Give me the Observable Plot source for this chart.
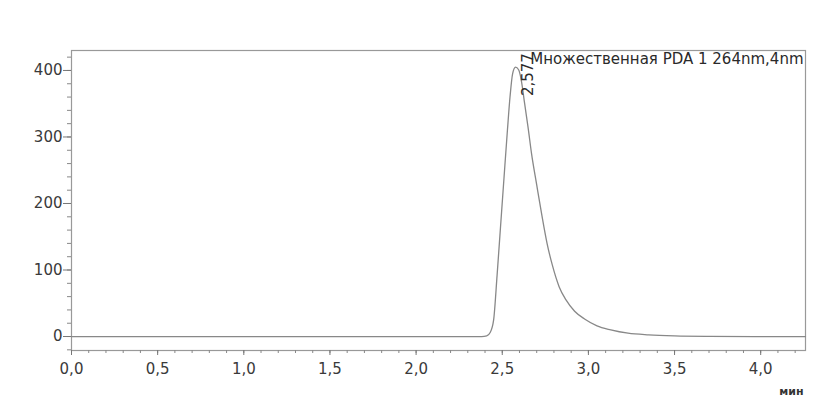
<!DOCTYPE html>
<html>
<head>
<meta charset="utf-8">
<script src="https://cdn.jsdelivr.net/npm/d3@7"></script>
<script src="https://cdn.jsdelivr.net/npm/@observablehq/plot@0.6"></script>
<style>
  html, body { margin: 0; padding: 0; background: #fff; }
</style>
</head>
<body>
<div id="chart"></div>
<script>
// Retention time (min) and detector response (mAU)
const times = [0, 0.5, 1.0, 1.5, 2.0, 2.30, 2.38, 2.41, 2.43, 2.45, 2.47, 2.49, 2.51, 2.53, 2.545, 2.56, 2.577, 2.595, 2.61, 2.63, 2.65, 2.67, 2.70, 2.73, 2.76, 2.79, 2.83, 2.87, 2.92, 2.98, 3.05, 3.13, 3.23, 3.35, 3.50, 3.70, 4.00, 4.26];
const absorbance = [0, 0, 0, 0, 0, 0, 0, 1, 6, 25, 92, 165, 238, 310, 360, 395, 405, 401, 386, 350, 314, 275, 228, 182, 140, 108, 75, 55, 38, 26, 16, 10, 5, 2.5, 1, 0.3, 0, 0];

const peakTime = [2.577];
const peakHeight = [405];
const peakLabel = ["2,577"];
const traceTitle = ["Множественная PDA 1 264nm,4nm"];
const xUnit = ["мин"];

const yMajorTicks = [0, 100, 200, 300, 400];
const yMinorTicks = [-20, 0, 20, 40, 60, 80, 100, 120, 140, 160, 180, 200, 220, 240, 260, 280, 300, 320, 340, 360, 380, 400, 420];
const xMajorTicks = [0, 0.5, 1.0, 1.5, 2.0, 2.5, 3.0, 3.5, 4.0];
const xMinorTicks = [0, 0.1, 0.2, 0.3, 0.4, 0.5, 0.6, 0.7, 0.8, 0.9, 1.0, 1.1, 1.2, 1.3, 1.4, 1.5, 1.6, 1.7, 1.8, 1.9, 2.0, 2.1, 2.2, 2.3, 2.4, 2.5, 2.6, 2.7, 2.8, 2.9, 3.0, 3.1, 3.2, 3.3, 3.4, 3.5, 3.6, 3.7, 3.8, 3.9, 4.0, 4.1, 4.2];

const trace = times.map((t, i) => ({t, v: absorbance[i]}));
const peaks = peakTime.map((t, i) => ({t, v: peakHeight[i], label: peakLabel[i]}));
const commaFmt = d => d.toFixed(1).replace(".", ",");

const chart = Plot.plot({
  width: 837,
  height: 409,
  marginLeft: 71,
  marginRight: 32,
  marginTop: 50,
  marginBottom: 59,
  style: {fontFamily: "DejaVu Sans", fontSize: "15px", color: "#555", background: "#fff"},
  x: {domain: [0, 4.26], label: null},
  y: {domain: [-21, 430], label: null},
  marks: [
    Plot.frame({stroke: "#999", strokeWidth: 1.2}),
    Plot.axisY(yMinorTicks, {tickSize: 4, tickFormat: () => "", label: null, stroke: "#888"}),
    Plot.axisY(yMajorTicks, {tickSize: 8, tickPadding: 1, tickFormat: d => String(d), label: null, stroke: "#777", fill: "#3a3a3a"}),
    Plot.axisX(xMinorTicks, {tickSize: 3, tickFormat: () => "", label: null, stroke: "#888"}),
    Plot.axisX(xMajorTicks, {tickSize: 5, tickPadding: 8, tickFormat: commaFmt, label: null, stroke: "#777", fill: "#3a3a3a"}),
    Plot.line(trace, {x: "t", y: "v", stroke: "#888", strokeWidth: 1.3, curve: "monotone-x"}),
    Plot.text(peaks, {x: "t", y: "v", text: "label", rotate: -90, textAnchor: "end", dx: 13, dy: -14, fill: "#2a2a2a", fontSize: 15}),
    Plot.text(traceTitle, {frameAnchor: "top-right", dx: -2, dy: 3, fill: "#2a2a2a", fontSize: 15}),
    Plot.text(xUnit, {frameAnchor: "bottom-right", lineAnchor: "middle", dx: -2, dy: 41, fill: "#333", fontSize: 11, fontWeight: "bold"})
  ]
});
document.getElementById("chart").appendChild(chart);
</script>
</body>
</html>
